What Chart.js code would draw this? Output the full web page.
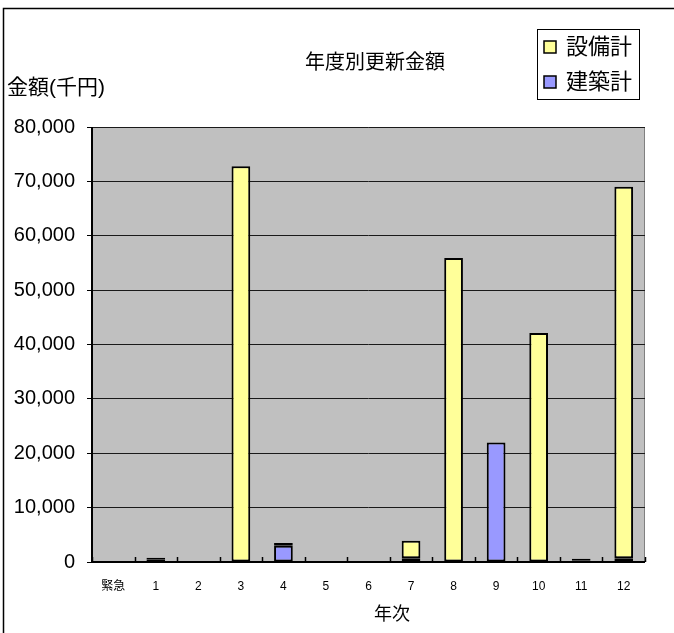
<!DOCTYPE html>
<html>
<head>
<meta charset="utf-8">
<script src="https://cdn.jsdelivr.net/npm/chart.js@4"></script>
<style>
html,body{margin:0;padding:0;background:#fff;}
#wrap{position:relative;width:674px;height:633px;}
</style>
</head>
<body>
<div id="wrap"><canvas id="c" width="674" height="633"></canvas></div>
<script>
const categories = ['緊急','1','2','3','4','5','6','7','8','9','10','11','12'];
const kenchiku = [0, 400, 0, 0, 3000, 0, 0, 700, 0, 22000, 0, 300, 700];   // 建築計
const setsubi  = [0, 400, 0, 72800, 500, 0, 0, 3200, 55900, 0, 42100, 300, 68300]; // 設備計
const seriesNames = ['設備計', '建築計'];
const yTicks = [0, 10000, 20000, 30000, 40000, 50000, 60000, 70000, 80000];
const chartTitle = '年度別更新金額';
const yTitle = '金額(千円)';
const xTitle = '年次';

const FONT = "'Liberation Sans', 'Noto Sans CJK JP', sans-serif";
const YELLOW = '#FFFF99', BLUE = '#9999FF';

const deco = {
  id: 'deco',
  beforeDraw(chart) {
    const {ctx, chartArea: a} = chart;
    ctx.save();
    ctx.fillStyle = '#C0C0C0';
    ctx.fillRect(a.left, a.top, a.right - a.left, a.bottom - a.top);
    ctx.strokeStyle = '#808080';
    ctx.lineWidth = 1;
    ctx.beginPath();
    ctx.moveTo(a.left, a.top + 0.5); ctx.lineTo(a.right - 0.5, a.top + 0.5); ctx.lineTo(a.right - 0.5, a.bottom);
    ctx.stroke();
    ctx.restore();
  },
  afterDraw(chart) {
    const {ctx, chartArea: a, scales} = chart;
    ctx.save();
    ctx.strokeStyle = '#000';
    ctx.lineWidth = 1.5;
    ctx.beginPath();
    ctx.moveTo(3.5, 633); ctx.lineTo(3.5, 8.5); ctx.lineTo(674, 8.5);
    ctx.stroke();
    ctx.lineWidth = 2;
    ctx.beginPath();
    ctx.moveTo(a.left, a.top); ctx.lineTo(a.left, a.bottom); ctx.lineTo(a.right, a.bottom);
    ctx.stroke();
    ctx.lineWidth = 1.5;
    const xs = scales.x;
    for (let i = 0; i <= categories.length; i++) {
      const px = Math.round(xs.getPixelForValue(i - 0.5)) + 0.5;
      ctx.beginPath(); ctx.moveTo(px, a.bottom); ctx.lineTo(px, a.bottom - 5); ctx.stroke();
    }
    ctx.fillStyle = '#000';
    ctx.textBaseline = 'middle';
    ctx.textAlign = 'center';
    ctx.font = '20px ' + FONT;
    ctx.fillText(chartTitle, 375, 63);
    ctx.font = '18px ' + FONT;
    ctx.fillText(xTitle, 392, 615);
    ctx.textAlign = 'left';
    ctx.font = '21px ' + FONT;
    ctx.fillText(yTitle, 7, 88);
    ctx.fillStyle = '#fff';
    ctx.fillRect(537, 29, 103, 71);
    ctx.strokeStyle = '#000';
    ctx.lineWidth = 1;
    ctx.strokeRect(537.5, 29.5, 102, 70);
    const items = [[seriesNames[0], YELLOW, 47], [seriesNames[1], BLUE, 82]];
    ctx.font = '22px ' + FONT;
    for (const [lab, col, y] of items) {
      ctx.fillStyle = col;
      ctx.fillRect(544, y - 6, 12, 12);
      ctx.strokeStyle = '#000';
      ctx.lineWidth = 1.5;
      ctx.strokeRect(544, y - 6, 12, 12);
      ctx.fillStyle = '#000';
      ctx.fillText(lab, 566, y + 1);
    }
    ctx.restore();
  }
};

const nz = arr => arr.map(v => (v === 0 ? null : v));

new Chart(document.getElementById('c'), {
  type: 'bar',
  data: {
    labels: categories,
    datasets: [
      {label: seriesNames[1], data: nz(kenchiku), backgroundColor: BLUE, borderColor: '#000', borderWidth: 2, borderSkipped: false},
      {label: seriesNames[0], data: nz(setsubi), backgroundColor: YELLOW, borderColor: '#000', borderWidth: 2, borderSkipped: false}
    ]
  },
  options: {
    responsive: false,
    animation: false,
    devicePixelRatio: 1,
    layout: {padding: {left: 0, right: 29, top: 127, bottom: 0}},
    plugins: {legend: {display: false}, title: {display: false}, tooltip: {enabled: false}},
    datasets: {bar: {barPercentage: 0.44, categoryPercentage: 1}},
    scales: {
      x: {
        stacked: true,
        offset: true,
        grid: {display: false, drawOnChartArea: false, drawTicks: false},
        border: {display: false},
        ticks: {color: '#000', font: {family: FONT, size: 12}, padding: 17, maxRotation: 0, autoSkip: false},
        afterFit(s) { s.height = 633 - 562; }
      },
      y: {
        stacked: true,
        min: 0, max: 80000,
        afterBuildTicks(s) { s.ticks = yTicks.map(v => ({value: v})); },
        grid: {color: '#1a1a1a', lineWidth: 1, drawTicks: true, tickLength: 5, tickColor: '#000'},
        border: {display: false},
        ticks: {color: '#000', font: {family: FONT, size: 20}, padding: 12,
          callback: v => v.toLocaleString('en-US')},
        afterFit(s) { s.width = 92; }
      }
    }
  },
  plugins: [deco]
});
</script>
</body>
</html>
